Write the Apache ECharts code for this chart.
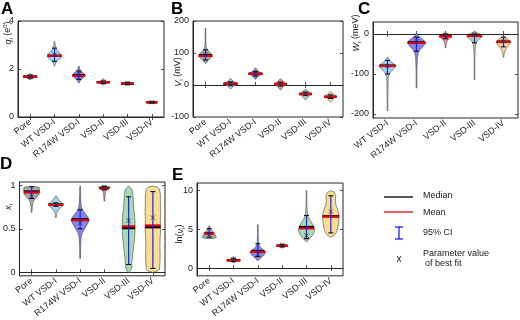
<!DOCTYPE html>
<html>
<head>
<meta charset="utf-8">
<script src="https://cdn.jsdelivr.net/npm/echarts@6/dist/echarts.min.js"></script>
<style>
  html, body { margin: 0; padding: 0; background: #fff; }
  #main { width: 520px; height: 320px; }
</style>
</head>
<body>
<div id="main"></div>
<script>
var catsAll = ['Pore', 'WT VSD-I', 'R174W VSD-I', 'VSD-II', 'VSD-III', 'VSD-IV'];
var catsC = ['WT VSD-I', 'R174W VSD-I', 'VSD-II', 'VSD-III', 'VSD-IV'];
var fillAll = ['#a9a9a9', '#9fd5ef', '#8185ec', '#f28c8c', '#a9dab3', '#f9dd93'];

// A: q_i (e0)
var aMean = [1.68, 2.55, 1.72, 1.45, 1.39, 0.61];
var aMedian = [1.68, 2.55, 1.74, 1.45, 1.39, 0.61];
var aCiLo = [1.62, 2.32, 1.57, 1.40, 1.35, 0.59];
var aCiHi = [1.74, 2.87, 1.92, 1.50, 1.43, 0.63];
var aBest = [1.70, 2.60, 1.78, 1.44, 1.40, 0.62];
var aShape = [
  [[1.56, 0], [1.62, 3], [1.68, 7], [1.74, 3], [1.80, 0]],
  [[2.13, 0], [2.25, 1], [2.35, 3], [2.45, 6], [2.55, 7], [2.65, 6], [2.75, 3.5], [2.85, 1.5], [3.0, 0.7], [3.15, 0]],
  [[1.42, 0], [1.52, 1.5], [1.62, 4], [1.72, 6.5], [1.82, 5], [1.92, 2], [2.0, 0.8], [2.12, 0]],
  [[1.34, 0], [1.40, 2.5], [1.45, 6.5], [1.50, 2.5], [1.58, 0]],
  [[1.32, 0], [1.36, 2.5], [1.39, 6.5], [1.43, 2.5], [1.48, 0]],
  [[0.57, 0], [0.60, 3], [0.615, 6.5], [0.63, 3], [0.66, 0]]
];

// B: V_i (mV)
var bMean = [91, 4, 35, 3, -28, -37];
var bMedian = [93, 4, 35, 3, -28, -37];
var bCiLo = [78, -2, 28, -3, -33, -42];
var bCiHi = [110, 10, 42, 9, -22, -31];
var bBest = [95, 5, 36, 4, -27, -35];
var bShape = [
  [[68, 0], [75, 2], [82, 4.5], [90, 7], [97, 6], [105, 3.5], [112, 1.5], [120, 0.6], [140, 0.3], [177, 0]],
  [[-12, 0], [-5, 2.5], [4, 7], [12, 2.5], [20, 0]],
  [[18, 0], [27, 2.5], [35, 7], [44, 2.5], [53, 0]],
  [[-15, 0], [-6, 2.5], [3, 6.5], [11, 2.5], [19, 0]],
  [[-46, 0], [-37, 2.5], [-28, 6.5], [-20, 2.5], [-13, 0]],
  [[-53, 0], [-44, 2.5], [-36, 6.5], [-28, 2.5], [-21, 0]]
];

// C: W_i (meV)
var cMean = [-80, -22, -6, -5, -20];
var cMedian = [-79, -21, -4, -3, -19];
var cCiLo = [-100, -43, -12, -22, -32];
var cCiHi = [-66, -8, 0, 0, -8];
var cBest = [-80, -18, -5, 0, -18];
var cShape = [
  [[-192, 0], [-150, 0.4], [-110, 0.7], [-100, 1.5], [-95, 3], [-88, 6], [-80, 8.5], [-74, 6], [-68, 3], [-62, 1], [-58, 0]],
  [[-135, 0], [-90, 0.4], [-60, 0.8], [-45, 2], [-38, 4], [-30, 7], [-22, 9], [-15, 7], [-8, 3.5], [-2, 1], [3, 0]],
  [[-35, 0], [-25, 0.5], [-18, 1.5], [-12, 3.5], [-6, 6.5], [-1, 4], [3, 0]],
  [[-114, 0], [-60, 0.3], [-30, 0.8], [-22, 1.5], [-14, 4], [-6, 8], [0, 5], [4, 1.5], [6, 0]],
  [[-58, 0], [-45, 0.8], [-37, 2.5], [-28, 5.5], [-21, 7.5], [-14, 5], [-9, 2], [-5, 0]]
];

// D: x_i
var dMean = [0.92, 0.776, 0.60, 0.966, 0.53, 0.54];
var dMedian = [0.93, 0.78, 0.61, 0.97, 0.51, 0.52];
var dCiLo = [0.85, 0.76, 0.50, 0.95, 0.09, 0.045];
var dCiHi = [0.985, 0.80, 0.72, 0.99, 0.87, 0.93];
var dBest = [0.88, 0.78, 0.57, 0.98, 0.595, 0.63];
var dShape = [
  [[0.69, 0], [0.75, 0.6], [0.80, 1.2], [0.84, 3], [0.87, 5.5], [0.90, 7.5], [0.95, 8], [0.98, 7.5], [0.99, 0]],
  [[0.63, 0], [0.68, 0.7], [0.72, 2.5], [0.75, 5.5], [0.78, 7.5], [0.81, 5], [0.84, 2.5], [0.88, 0]],
  [[0.16, 0], [0.3, 0.5], [0.4, 1], [0.45, 2], [0.5, 4.5], [0.55, 7], [0.60, 9], [0.65, 7], [0.70, 3.5], [0.74, 1.5], [0.8, 0.8], [0.9, 0.5], [0.99, 0]],
  [[0.82, 0], [0.9, 0.7], [0.94, 1.5], [0.96, 4], [0.98, 6], [0.995, 0]],
  [[0.0, 0], [0.02, 2], [0.06, 3], [0.15, 3.5], [0.25, 4.5], [0.35, 5.5], [0.45, 6.3], [0.55, 6.5], [0.65, 6], [0.75, 5], [0.85, 4.5], [0.92, 4], [0.96, 3], [0.99, 0]],
  [[0.0, 0], [0.01, 4], [0.03, 6.5], [0.1, 7], [0.2, 7.3], [0.3, 7], [0.4, 7.3], [0.5, 7.8], [0.6, 7.5], [0.7, 7.8], [0.8, 7.5], [0.9, 7.5], [0.96, 6.5], [0.985, 4], [0.99, 0]]
];

// E: ln(v_i)
var eMean = [4.46, 1.0, 2.1, 2.87, 5.13, 6.66];
var eMedian = [4.5, 1.02, 2.2, 2.9, 5.3, 6.7];
var eCiLo = [4.0, 0.85, 1.5, 2.75, 3.8, 4.55];
var eCiHi = [5.1, 1.25, 3.15, 3.0, 6.8, 9.35];
var eBest = [4.3, 1.1, 1.8, 3.0, 4.2, 7.3];
var eShape = [
  [[3.8, 0], [3.85, 5], [4.0, 7.3], [4.3, 6], [4.6, 4], [4.9, 2.5], [5.2, 1], [5.45, 0]],
  [[0.7, 0], [0.85, 2.5], [1.0, 7], [1.15, 3], [1.3, 1], [1.5, 0]],
  [[0.95, 0], [1.2, 2], [1.5, 4.5], [1.8, 7], [2.1, 7.5], [2.4, 5], [2.7, 2.5], [3.0, 1.2], [3.3, 0.7], [4.0, 0.4], [5.6, 0]],
  [[2.6, 0], [2.75, 2.5], [2.88, 6], [3.0, 2.5], [3.15, 0]],
  [[3.4, 0], [3.8, 3], [4.3, 6.5], [4.8, 8], [5.3, 7.5], [5.8, 5.5], [6.3, 3], [6.8, 1.2], [7.5, 0.6], [8.5, 0.4], [10.0, 0]],
  [[4.0, 0], [4.2, 3], [4.6, 5.5], [5.2, 7], [6.0, 8], [6.8, 8.3], [7.5, 7], [8.2, 5], [8.8, 4.5], [9.4, 5], [9.8, 3.5], [10.0, 0]]
];

var panels = [
  { grid: { left: 18, top: 21, width: 146, height: 96 }, cats: catsAll, fills: fillAll,
    mean: aMean, median: aMedian, ciLo: aCiLo, ciHi: aCiHi, best: aBest, shape: aShape,
    min: 0, max: 4, ticks: [0, 2, 4] },
  { grid: { left: 193, top: 21, width: 150, height: 96 }, cats: catsAll, fills: fillAll,
    mean: bMean, median: bMedian, ciLo: bCiLo, ciHi: bCiHi, best: bBest, shape: bShape,
    min: -100, max: 200, ticks: [-100, 0, 100, 200] },
  { grid: { left: 373, top: 22, width: 145, height: 96 }, cats: catsC, fills: fillAll.slice(1),
    mean: cMean, median: cMedian, ciLo: cCiLo, ciHi: cCiHi, best: cBest, shape: cShape,
    min: -210, max: 30, ticks: [-200, -100, 0] },
  { grid: { left: 18, top: 182, width: 147, height: 97 }, cats: catsAll, fills: fillAll,
    mean: dMean, median: dMedian, ciLo: dCiLo, ciHi: dCiHi, best: dBest, shape: dShape,
    min: -0.04, max: 1.04, ticks: [0, 0.5, 1] },
  { grid: { left: 197, top: 183, width: 146, height: 97 }, cats: catsAll, fills: fillAll,
    mean: eMean, median: eMedian, ciLo: eCiLo, ciHi: eCiHi, best: eBest, shape: eShape,
    min: -1, max: 11, ticks: [0, 5, 10] }
];

var FONT = 'Liberation Sans, Arial, sans-serif';
var axisColor = '#262626';

function halfAt(prof, v) {
  if (v <= prof[0][0] || v >= prof[prof.length - 1][0]) return 0;
  for (var k = 1; k < prof.length; k++) {
    if (v <= prof[k][0]) {
      var t = (v - prof[k - 1][0]) / (prof[k][0] - prof[k - 1][0]);
      return prof[k - 1][1] + t * (prof[k][1] - prof[k - 1][1]);
    }
  }
  return 0;
}

function makeRender(p) {
  return function (params, api) {
    var i = api.value(0);
    var prof = p.shape[i];
    var cx = api.coord([i, 0])[0];
    var pts = [];
    var k, y;
    for (k = 0; k < prof.length; k++) {
      y = api.coord([i, prof[k][0]])[1];
      pts.push([cx + Math.max(prof[k][1], 0.35), y]);
    }
    for (k = prof.length - 1; k >= 0; k--) {
      y = api.coord([i, prof[k][0]])[1];
      pts.push([cx - Math.max(prof[k][1], 0.35), y]);
    }
    var yMean = api.coord([i, api.value(1)])[1];
    var yMed = api.coord([i, api.value(2)])[1];
    var yLo = api.coord([i, api.value(3)])[1];
    var yHi = api.coord([i, api.value(4)])[1];
    var yBest = api.coord([i, api.value(5)])[1];
    var hMean = Math.max(halfAt(prof, api.value(1)), 2);
    var hMed = Math.max(halfAt(prof, api.value(2)), 2);
    var cap = 2.5, xs = 2.2;
    return {
      type: 'group',
      children: [
        { type: 'polygon', shape: { points: pts },
          style: { fill: p.fills[i], stroke: '#4a4a4a', lineWidth: 0.6 } },
        { type: 'line', shape: { x1: cx - hMed, y1: yMed, x2: cx + hMed, y2: yMed },
          style: { stroke: '#000', lineWidth: 2.4 } },
        { type: 'line', shape: { x1: cx - hMean, y1: yMean, x2: cx + hMean, y2: yMean },
          style: { stroke: '#e8000b', lineWidth: 2.2 } },
        { type: 'line', shape: { x1: cx, y1: yLo, x2: cx, y2: yHi },
          style: { stroke: '#1c1cff', lineWidth: 1.2 } },
        { type: 'line', shape: { x1: cx - cap, y1: yLo, x2: cx + cap, y2: yLo },
          style: { stroke: '#111', lineWidth: 1.1 } },
        { type: 'line', shape: { x1: cx - cap, y1: yHi, x2: cx + cap, y2: yHi },
          style: { stroke: '#111', lineWidth: 1.1 } },
        { type: 'line', shape: { x1: cx - xs, y1: yBest - xs, x2: cx + xs, y2: yBest + xs },
          style: { stroke: '#333', lineWidth: 0.8 } },
        { type: 'line', shape: { x1: cx - xs, y1: yBest + xs, x2: cx + xs, y2: yBest - xs },
          style: { stroke: '#333', lineWidth: 0.8 } }
      ]
    };
  };
}

var grids = [], xAxes = [], yAxes = [], series = [];
panels.forEach(function (p, g) {
  grids.push({ left: p.grid.left, top: p.grid.top, width: p.grid.width, height: p.grid.height,
    show: true, borderColor: axisColor, borderWidth: 1, backgroundColor: 'transparent' });
  var tickX = { show: true, inside: true, alignWithLabel: true, length: 3, lineStyle: { color: axisColor, width: 0.8 } };
  xAxes.push({ gridIndex: g, type: 'category', data: p.cats, position: 'bottom', boundaryGap: true,
    axisLine: { show: true, lineStyle: { color: axisColor, width: 1 } },
    axisTick: tickX,
    axisLabel: { interval: 0, rotate: 38, fontSize: 9, margin: 4, color: '#1a1a1a', fontFamily: FONT } });
  xAxes.push({ gridIndex: g, type: 'category', data: p.cats, position: 'top', boundaryGap: true,
    axisLine: { show: false }, axisTick: tickX, axisLabel: { show: false } });
  var tickY = { show: true, inside: true, length: 3, customValues: p.ticks, lineStyle: { color: axisColor, width: 0.8 } };
  yAxes.push({ gridIndex: g, type: 'value', min: p.min, max: p.max, position: 'left',
    splitLine: { show: false },
    axisLine: { show: true, lineStyle: { color: axisColor, width: 1 } },
    axisTick: tickY,
    axisLabel: { customValues: p.ticks, fontSize: 9, margin: 4, color: '#1a1a1a', fontFamily: FONT } });
  yAxes.push({ gridIndex: g, type: 'value', min: p.min, max: p.max, position: 'right',
    splitLine: { show: false }, axisLine: { show: false },
    axisTick: tickY, axisLabel: { show: false } });
  series.push({
    type: 'custom',
    xAxisIndex: 2 * g,
    yAxisIndex: 2 * g,
    renderItem: makeRender(p),
    encode: { x: 0, y: [1, 2, 3, 4, 5] },
    data: p.cats.map(function (c, i) {
      return [i, p.mean[i], p.median[i], p.ciLo[i], p.ciHi[i], p.best[i]];
    }),
    silent: true
  });
});

var richBase = {
  m: { fontSize: 9, fontFamily: FONT, fill: '#1a1a1a', lineHeight: 12 },
  v: { fontSize: 9, fontFamily: FONT, fontStyle: 'italic', fill: '#1a1a1a', lineHeight: 12 },
  s: { fontSize: 6, fontFamily: FONT, fill: '#1a1a1a', verticalAlign: 'bottom', lineHeight: 12 },
  p: { fontSize: 6, fontFamily: FONT, fill: '#1a1a1a', verticalAlign: 'top', lineHeight: 12 }
};

function yName(x, y, txt) {
  return { type: 'text', x: x, y: y, rotation: Math.PI / 2,
    style: { text: txt, rich: richBase, align: 'center', verticalAlign: 'middle' } };
}
function letter(x, y, t) {
  return { type: 'text', x: x, y: y,
    style: { text: t, font: 'bold 17px ' + FONT, fill: '#000', align: 'left', verticalAlign: 'top' } };
}
function legText(x, y, t) {
  return { type: 'text', x: x, y: y,
    style: { text: t, font: '9px ' + FONT, fill: '#1a1a1a', align: 'left', verticalAlign: 'middle' } };
}

var graphics = [
  letter(1, 1, 'A'), letter(171, 1, 'B'), letter(358, 1, 'C'),
  letter(0, 156, 'D'), letter(172, 167, 'E'),
  yName(8, 33, '{v|q}{s|i}{m| (e}{p|0}{m|)}'),
  yName(178, 72, '{v|V}{s|i}{m| (mV)}'),
  yName(356, 33, '{v|W}{s|i}{m| (meV)}'),
  yName(8, 207, '{v|x}{s|i}'),
  yName(180, 234, '{m|ln(}{v|ν}{s|i}{m|)}'),
  { type: 'line', shape: { x1: 384, y1: 197, x2: 413, y2: 197 }, style: { stroke: '#000', lineWidth: 1.3 } },
  { type: 'line', shape: { x1: 384, y1: 212, x2: 413, y2: 212 }, style: { stroke: '#e8000b', lineWidth: 1.3 } },
  { type: 'line', shape: { x1: 399, y1: 227, x2: 399, y2: 239 }, style: { stroke: '#1c1cff', lineWidth: 1.3 } },
  { type: 'line', shape: { x1: 395, y1: 227, x2: 403, y2: 227 }, style: { stroke: '#1c1cff', lineWidth: 1.3 } },
  { type: 'line', shape: { x1: 395, y1: 239, x2: 403, y2: 239 }, style: { stroke: '#1c1cff', lineWidth: 1.3 } },
  { type: 'text', x: 399, y: 259, style: { text: 'x', font: '10px ' + FONT, fill: '#1a1a1a', align: 'center', verticalAlign: 'middle' } },
  legText(423, 196, 'Median'),
  legText(423, 213, 'Mean'),
  legText(423, 233, '95% CI'),
  legText(423, 254, 'Parameter value'),
  legText(425, 264, 'of best fit')
];

var chart = echarts.init(document.getElementById('main'), null, { renderer: 'canvas' });
chart.setOption({
  animation: false,
  backgroundColor: '#fff',
  grid: grids,
  xAxis: xAxes,
  yAxis: yAxes,
  series: series,
  graphic: graphics
});
</script>
</body>
</html>
